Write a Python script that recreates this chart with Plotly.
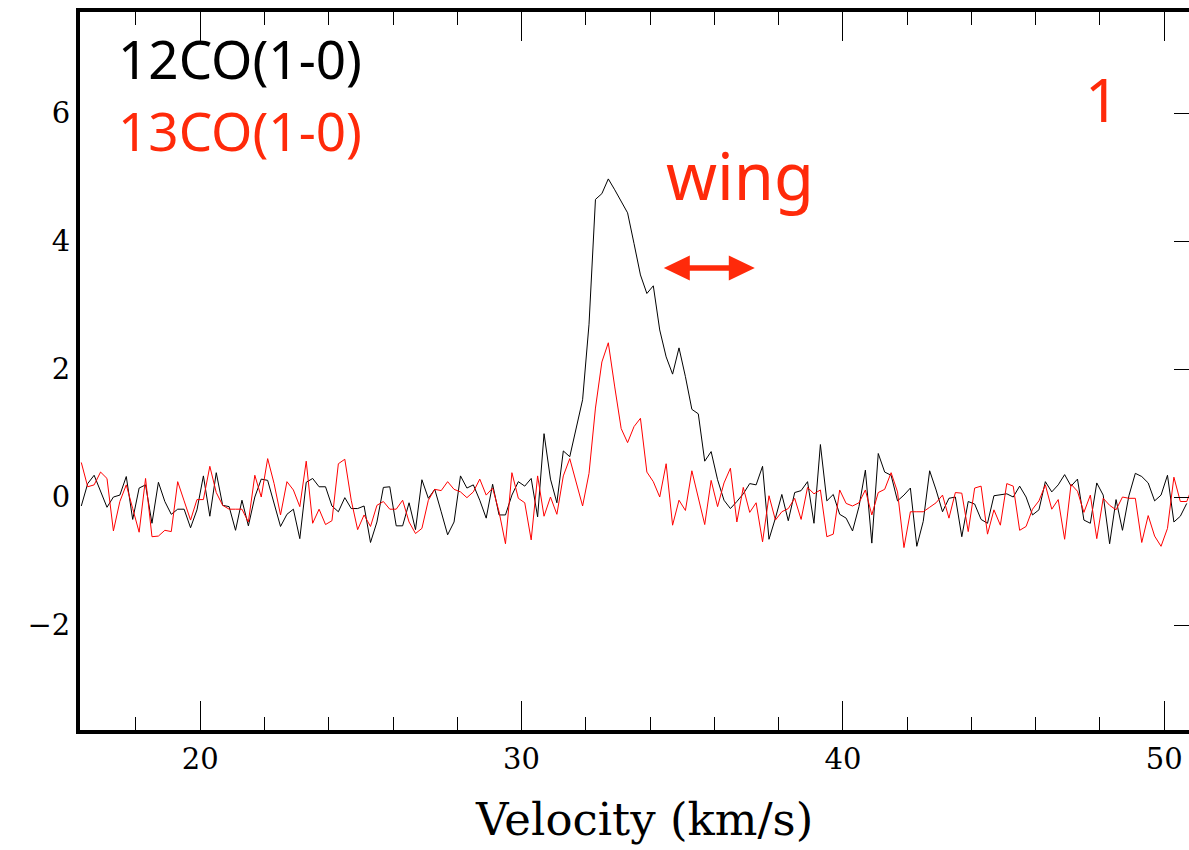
import numpy as np
import plotly.graph_objects as go

# channel axis (km/s)
V_START = 16.3
DV = 0.2

co12 = [-0.14, 0.21, 0.34, 0.10, -0.16, 0.00, 0.03, 0.32, -0.35, 0.14,
        0.19, -0.41, 0.23, -0.07, -0.27, -0.19, -0.19, -0.48, -0.20, 0.33,
        -0.30, 0.38, -0.13, -0.15, -0.52, -0.05, -0.45, 0.00, 0.28, 0.26,
        -0.10, -0.46, -0.27, -0.19, -0.65, 0.23, 0.29, 0.16, 0.16, -0.14,
        -0.23, -0.01, -0.18, -0.18, -0.14, -0.71, -0.39, 0.15, 0.16, -0.45,
        -0.45, -0.09, -0.51, 0.27, -0.02, 0.12, -0.23, -0.59, -0.39, 0.33,
        0.14, 0.19, -0.05, -0.33, 0.20, -0.28, -0.28, 0.03, 0.24, 0.17,
        0.29, -0.31, 0.99, 0.28, -0.09, 0.72, 0.63, 1.05, 1.52, 2.70,
        4.65, 4.74, 4.97, 4.80, 4.63, 4.44, 3.96, 3.47, 3.18, 3.30,
        2.61, 2.19, 1.92, 2.33, 1.88, 1.37, 1.30, 0.56, 0.71, 0.27,
        -0.05, -0.18, -0.07, 0.05, 0.21, 0.19, 0.48, -0.66, -0.33, 0.04,
        -0.37, 0.07, 0.10, 0.24, -0.41, 0.82, -0.06, 0.04, -0.27, -0.33,
        -0.53, -0.15, 0.42, -0.72, 0.68, 0.39, 0.34, -0.06, 0.03, 0.14,
        -0.77, -0.38, 0.41, 0.11, -0.23, -0.02, 0.00, -0.62, -0.07, -0.11,
        -0.35, -0.41, 0.02, 0.03, 0.05, 0.00, 0.17, 0.00, -0.28, -0.20,
        0.24, 0.08, 0.19, 0.35, 0.17, 0.28, -0.36, -0.41, 0.22, 0.03,
        -0.73, -0.04, -0.52, 0.02, 0.37, 0.32, 0.22, -0.06, 0.03, 0.34,
        -0.39, -0.30, -0.10]

co13 = [0.54, 0.16, 0.19, 0.39, 0.29, -0.53, -0.07, 0.19, -0.18, -0.55,
        0.29, -0.62, -0.61, -0.52, -0.54, 0.24, -0.06, -0.36, -0.04, -0.04,
        0.48, 0.07, -0.13, -0.19, -0.19, -0.19, -0.39, 0.34, 0.00, 0.60,
        0.21, -0.28, 0.24, 0.11, -0.15, 0.56, -0.41, -0.19, -0.43, -0.37,
        0.52, 0.59, -0.05, -0.51, -0.28, -0.46, -0.13, -0.07, -0.19, -0.19,
        -0.05, -0.39, -0.57, -0.49, -0.05, 0.12, 0.10, 0.24, 0.12, 0.08,
        -0.01, 0.08, 0.28, 0.03, 0.14, -0.23, -0.73, 0.38, -0.02, -0.09,
        -0.67, 0.33, -0.30, 0.00, -0.27, 0.33, 0.60, 0.24, -0.14, 0.37,
        1.39, 2.11, 2.41, 1.72, 1.07, 0.85, 1.10, 1.23, 0.39, 0.24,
        0.00, 0.52, -0.44, -0.05, -0.21, 0.41, 0.00, -0.43, 0.26, -0.15,
        0.22, 0.45, -0.39, 0.15, -0.24, -0.09, -0.70, 0.02, -0.36, -0.23,
        -0.18, -0.02, -0.35, 0.15, 0.05, 0.11, -0.62, -0.58, 0.11, -0.10,
        -0.14, -0.09, 0.11, -0.28, 0.07, 0.12, 0.38, 0.08, -0.79, -0.23,
        -0.23, -0.23, -0.16, -0.09, 0.03, -0.33, 0.07, 0.06, -0.54, 0.14,
        0.17, -0.58, -0.20, -0.44, 0.21, 0.17, -0.52, -0.46, -0.19, -0.06,
        0.19, -0.19, -0.04, -0.66, 0.20, 0.09, -0.24, 0.03, -0.65, -0.02,
        -0.13, -0.20, 0.00, -0.02, -0.02, -0.71, -0.29, -0.61, -0.77, -0.49,
        0.31, -0.07, -0.07, 0.19]

labels = ["12CO(1-0)", "13CO(1-0)"]
x_tick_vals = [20, 30, 40, 50]
y_tick_vals = [-2, 0, 2, 4, 6]

vel12 = V_START + DV * np.arange(len(co12))
vel13 = V_START + DV * np.arange(len(co13))

W, H = 1189, 850
ML, MR, MT, MB = 80, 0, 12, 120
XR = [16.26, 50.77]
YR = [-3.64, 7.578]
PW, PH = W - ML - MR, H - MT - MB

# pixel -> data / paper helpers for annotation placement
def px2x(px):
    return XR[0] + (px - ML) / PW * (XR[1] - XR[0])

def py2y(py):
    return YR[1] - (py - MT) / PH * (YR[1] - YR[0])

def px2p(px):
    return (px - ML) / PW

def py2p(py):
    return (H - MB - py) / PH

RED_TXT = "#ff2a0a"

fig = go.Figure()
fig.add_trace(go.Scatter(x=vel12, y=co12, mode="lines", name=labels[0],
                         line=dict(color="black", width=1)))
fig.add_trace(go.Scatter(x=vel13, y=co13, mode="lines", name=labels[1],
                         line=dict(color="#ff0000", width=1)))
fig.add_trace(go.Scatter(x=[], y=[], yaxis="y2", showlegend=False))

tickfont = dict(family="DejaVu Serif", size=29, color="black")

fig.update_layout(
    width=W, height=H,
    margin=dict(l=ML, r=MR, t=MT, b=MB),
    paper_bgcolor="white", plot_bgcolor="white",
    showlegend=False,
    xaxis=dict(range=XR, showline=True, linewidth=4, linecolor="black",
               mirror="ticks", ticks="inside", ticklen=29, tickwidth=1,
               tickcolor="black", tickvals=x_tick_vals,
               minor=dict(dtick=2, tick0=0, ticks="inside", ticklen=13,
                          tickwidth=1, tickcolor="black"),
               showgrid=False, zeroline=False, tickfont=tickfont),
    yaxis=dict(range=YR, showline=True, linewidth=4, linecolor="black",
               mirror=False, ticks="", tickvals=y_tick_vals,
               showgrid=False, zeroline=False, tickfont=tickfont),
    yaxis2=dict(range=YR, overlaying="y", side="right", showline=False,
                ticks="inside", ticklen=15, tickwidth=1, tickcolor="black",
                tickvals=y_tick_vals, showticklabels=False,
                showgrid=False, zeroline=False),
)

# double-headed arrow (pixel geometry converted to data coords)
yc, x1, x2 = 268, 663.8, 754.8
hl, hh, st = 26, 12.5, 2.7
pts = [(x1, yc), (x1 + hl, yc - hh), (x1 + hl, yc - st), (x2 - hl, yc - st),
       (x2 - hl, yc - hh), (x2, yc), (x2 - hl, yc + hh), (x2 - hl, yc + st),
       (x1 + hl, yc + st), (x1 + hl, yc + hh)]
path = "M " + " L ".join(f"{px2x(a):.4f},{py2y(b):.4f}" for a, b in pts) + " Z"
fig.add_shape(type="path", path=path, xref="x", yref="y",
              fillcolor=RED_TXT, line=dict(width=0))

sans = "Noto Sans"
fig.add_annotation(x=px2p(116), y=py2p(58.5), xref="paper", yref="paper",
                   text=labels[0], showarrow=False, xanchor="left",
                   yanchor="middle", font=dict(family=sans, size=53, color="black"))
fig.add_annotation(x=px2p(116), y=py2p(130.5), xref="paper", yref="paper",
                   text=labels[1], showarrow=False, xanchor="left",
                   yanchor="middle", font=dict(family=sans, size=53, color=RED_TXT))
fig.add_annotation(x=px2p(1102), y=py2p(99), xref="paper", yref="paper",
                   text="1", showarrow=False, xanchor="center",
                   yanchor="middle", font=dict(family=sans, size=60, color=RED_TXT))
fig.add_annotation(x=px2p(664), y=py2p(175), xref="paper", yref="paper",
                   text="wing", showarrow=False, xanchor="left",
                   yanchor="middle", font=dict(family=sans, size=65, color=RED_TXT))
fig.add_annotation(x=px2p(644), y=py2p(820), xref="paper", yref="paper",
                   text="Velocity (km/s)", showarrow=False, xanchor="center",
                   yanchor="middle",
                   font=dict(family="DejaVu Serif", size=45, color="black"))

fig.write_html("out.html")
